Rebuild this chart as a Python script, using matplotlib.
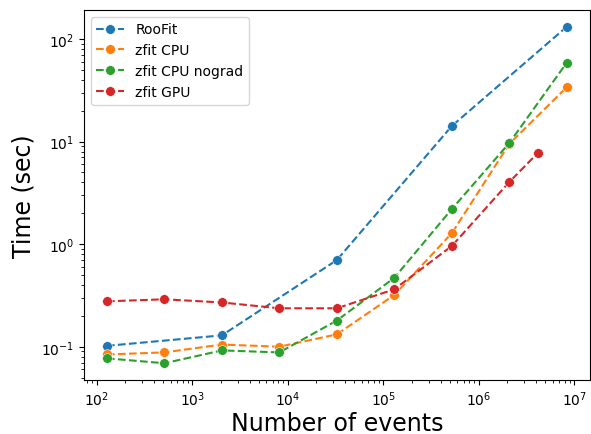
import matplotlib
matplotlib.use("Agg")
import matplotlib.pyplot as plt

n_events = [128, 512, 2048, 8192, 32768, 131072, 524288, 2097152, 8388608]
n_events_gpu = [128, 512, 2048, 8192, 32768, 131072, 524288, 2097152, 4194304]

roofit_x = [128, 2048, 32768, 524288, 8388608]
roofit = [0.102, 0.129, 0.70, 14.2, 132]
zfit_cpu = [0.084, 0.088, 0.105, 0.100, 0.132, 0.32, 1.28, 9.5, 34]
zfit_cpu_nograd = [0.077, 0.069, 0.092, 0.088, 0.18, 0.47, 2.2, 9.7, 59]
zfit_gpu = [0.277, 0.29, 0.27, 0.237, 0.237, 0.363, 0.96, 4.04, 7.8]

fig = plt.figure(figsize=(5.91, 4.35), dpi=100)
ax = fig.add_axes([0.142, 0.124, 0.856, 0.851])
kw = dict(marker="o", linestyle="--", markersize=7, markeredgecolor="white", markeredgewidth=0.4)
ax.plot(roofit_x, roofit, label="RooFit", **kw)
ax.plot(n_events, zfit_cpu, label="zfit CPU", **kw)
ax.plot(n_events, zfit_cpu_nograd, label="zfit CPU nograd", **kw)
ax.plot(n_events_gpu, zfit_gpu, label="zfit GPU", **kw)
ax.set_xscale("log")
ax.set_yscale("log")
ax.set_xlabel("Number of events", fontsize=17, labelpad=2)
ax.set_ylabel("Time (sec)", fontsize=17)
ax.legend(loc="upper left")
fig.savefig("out.png", dpi=100)
